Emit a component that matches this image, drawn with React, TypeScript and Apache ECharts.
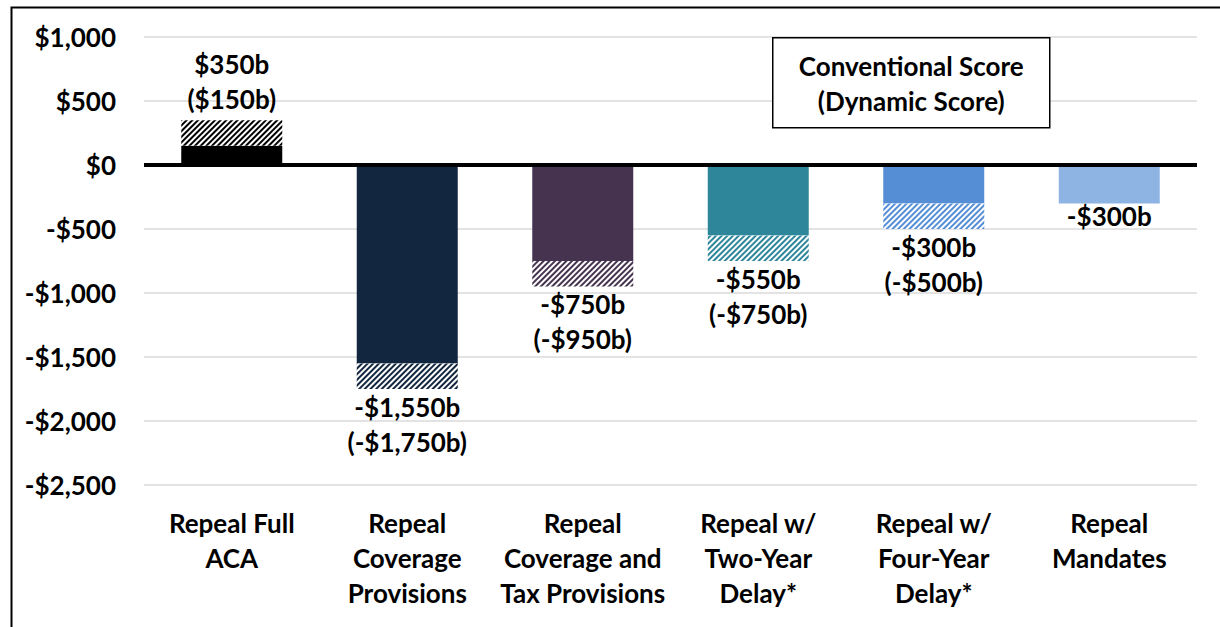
import React, { useEffect, useRef } from "react";
import * as echarts from "echarts";

const categories = [
  "Repeal Full\nACA",
  "Repeal\nCoverage\nProvisions",
  "Repeal\nCoverage and\nTax Provisions",
  "Repeal w/\nTwo-Year\nDelay*",
  "Repeal w/\nFour-Year\nDelay*",
  "Repeal\nMandates",
];
const conventional = [350, -1550, -750, -550, -300, -300];
const dynamicScore: (number | null)[] = [150, -1750, -950, -750, -500, null];
const barColors = ["#000000", "#12263F", "#45334F", "#2E869A", "#558ED5", "#8EB4E3"];
const yTicks = { min: -2500, max: 1000, interval: 500 };

const fmt = (v: number) => {
  const s = "$" + Math.abs(v).toLocaleString("en-US") + "b";
  return v < 0 ? "-" + s : s;
};

const FONT = "Lato";
const FS = 26;

export default function App() {
  const ref = useRef<HTMLDivElement>(null);
  useEffect(() => {
    if (!ref.current) return;
    const chart = echarts.init(ref.current, undefined, { renderer: "svg" });

    const solidData = conventional.map((c, i) => {
      const d = dynamicScore[i];
      const inner = d === null ? c : Math.abs(c) < Math.abs(d) ? c : d;
      const item: any = { value: inner, itemStyle: { color: barColors[i] } };
      if (d === null) {
        item.label = {
          show: true,
          position: "bottom",
          distance: 0,
          formatter: fmt(c),
          fontFamily: FONT,
          fontWeight: "bold",
          fontSize: FS,
          color: "#000",
          lineHeight: 26,
        };
      }
      return item;
    });

    const hatchData = conventional.map((c, i) => {
      const d = dynamicScore[i];
      if (d === null) return "-";
      const inner = Math.abs(c) < Math.abs(d) ? c : d;
      const outer = Math.abs(c) < Math.abs(d) ? d : c;
      return {
        value: outer - inner,
        itemStyle: {
          color: "#ffffff",
          decal: {
            symbol: "rect",
            symbolSize: 1,
            color: barColors[i],
            backgroundColor: "#ffffff",
            dashArrayX: [1, 0],
            dashArrayY: [1.5, 1.6],
            rotation: -Math.PI / 4,
          },
        },
        label: {
          show: true,
          position: outer > 0 ? "top" : "bottom",
          distance: outer > 0 ? 4 : 0,
          formatter: fmt(c) + "\n(" + fmt(d) + ")",
          fontFamily: FONT,
          fontWeight: "bold",
          fontSize: FS,
          color: "#000",
          lineHeight: 35,
        },
      };
    });

    chart.setOption({
      animation: false,
      backgroundColor: "#ffffff",
      grid: { left: 144, right: 23, top: 37, bottom: 142, containLabel: false },
      xAxis: {
        type: "category",
        data: categories,
        axisLine: { show: false },
        axisTick: { show: false },
        axisLabel: {
          interval: 0,
          margin: 20,
          fontFamily: FONT,
          fontWeight: "bold",
          fontSize: FS,
          color: "#000",
          lineHeight: 35,
          verticalAlign: "top",
        },
      },
      yAxis: {
        type: "value",
        min: yTicks.min,
        max: yTicks.max,
        interval: yTicks.interval,
        axisLine: { show: false },
        axisTick: { show: false },
        splitLine: { lineStyle: { color: "#e3e3e3", width: 2 } },
        axisLabel: {
          margin: 28,
          fontFamily: FONT,
          fontWeight: "bold",
          fontSize: FS,
          color: "#000",
          formatter: (v: number) => (v < 0 ? "-$" : "$") + Math.abs(v).toLocaleString("en-US"),
        },
      },
      series: [
        {
          type: "bar",
          stack: "s",
          barWidth: 101,
          data: solidData,
          markLine: {
            silent: true,
            symbol: "none",
            label: { show: false },
            lineStyle: { color: "#000", width: 4, type: "solid" },
            data: [{ yAxis: 0 }],
          },
        },
        {
          type: "bar",
          stack: "s",
          barWidth: 101,
          data: hatchData,
        },
      ],
      graphic: [
        {
          type: "rect",
          left: 9,
          top: 5,
          shape: { width: 1400, height: 800 },
          style: { fill: "none", stroke: "#000", lineWidth: 2 },
          z: 100,
        },
        {
          type: "group",
          left: 772,
          top: 37,
          z: 100,
          children: [
            {
              type: "rect",
              z: 100,
              shape: { x: 0, y: 0, width: 277, height: 90 },
              style: { fill: "#fff", stroke: "#000", lineWidth: 1.5 },
            },
            {
              type: "text",
              z: 101,
              x: 138.5,
              y: 28,
              style: {
                text: "Conventional Score",
                fontFamily: FONT,
                fontWeight: "bold",
                fontSize: FS,
                fill: "#000",
                align: "center",
                verticalAlign: "middle",
              },
            },
            {
              type: "text",
              z: 101,
              x: 138.5,
              y: 63,
              style: {
                text: "(Dynamic Score)",
                fontFamily: FONT,
                fontWeight: "bold",
                fontSize: FS,
                fill: "#000",
                align: "center",
                verticalAlign: "middle",
              },
            },
          ],
        },
      ],
    });
    return () => chart.dispose();
  }, []);
  return (
    <div
      ref={ref}
      style={{ position: "fixed", left: 0, top: 0, width: 1220, height: 627 }}
    />
  );
}
